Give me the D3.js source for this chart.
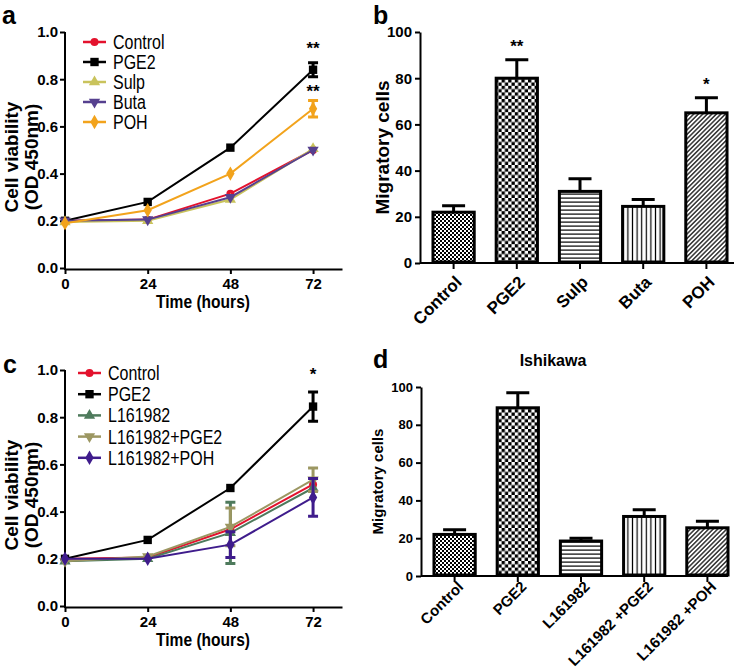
<!DOCTYPE html>
<html>
<head>
<meta charset="utf-8">
<script src="https://cdn.jsdelivr.net/npm/d3@7"></script>
<style>
  body { margin: 0; background: #fff; }
  svg { display: block; }
  text { font-family: Arial, "Liberation Sans", sans-serif; }
</style>
</head>
<body>
<svg width="742" height="671"></svg>
<script>
// ---- data ----
var hours = [0, 24, 48, 72];

// panel a
var aNames = ["Control", "PGE2", "Sulp", "Buta", "POH"];
var aControl = [0.20, 0.205, 0.315, 0.50];
var aPGE2 = [0.20, 0.28, 0.51, 0.84];
var aSulp = [0.195, 0.20, 0.29, 0.505];
var aButa = [0.20, 0.205, 0.30, 0.50];
var aPOH = [0.19, 0.245, 0.40, 0.675];
var aControlErr = [0.01, 0.008, 0.01, 0.01];
var aPGE2Err = [0.01, 0.01, 0.012, 0.03];
var aSulpErr = [0.01, 0.008, 0.01, 0.01];
var aButaErr = [0.01, 0.008, 0.01, 0.01];
var aPOHErr = [0.01, 0.01, 0.01, 0.035];

// panel c
var cNames = ["Control", "PGE2", "L161982", "L161982+PGE2", "L161982+POH"];
var cControl = [0.20, 0.205, 0.325, 0.515];
var cPGE2 = [0.20, 0.28, 0.50, 0.845];
var cL161982 = [0.19, 0.20, 0.31, 0.50];
var cLPGE2 = [0.19, 0.21, 0.335, 0.535];
var cLPOH = [0.20, 0.20, 0.26, 0.46];
var cControlErr = [0.01, 0.01, 0.02, 0.02];
var cPGE2Err = [0.01, 0.01, 0.01, 0.062];
var cL161982Err = [0.01, 0.01, 0.13, 0.02];
var cLPGE2Err = [0.01, 0.01, 0.08, 0.05];
var cLPOHErr = [0.01, 0.01, 0.055, 0.08];

// panel b
var bCats = ["Control", "PGE2", "Sulp", "Buta", "POH"];
var bValues = [22, 80, 31, 24.5, 65];
var bErrors = [2.8, 8, 5.5, 3, 6.5];
var bStars = ["", "**", "", "", "*"];

// panel d
var dCats = ["Control", "PGE2", "L161982", "L161982 +PGE2", "L161982 +POH"];
var dValues = [22, 89, 18.5, 31.5, 25.5];
var dErrors = [2.5, 8, 1.5, 3.5, 3.5];

var lineTicks = [0, 0.2, 0.4, 0.6, 0.8, 1.0];
var barTicks = [0, 20, 40, 60, 80, 100];

var svg = d3.select("svg");

// ---- patterns ----
var defs = svg.append("defs");
var p = defs.append("pattern").attr("id", "fineCheck").attr("patternUnits", "userSpaceOnUse")
  .attr("width", 4).attr("height", 4);
p.append("rect").attr("width", 4).attr("height", 4).attr("fill", "#fff");
p.append("rect").attr("width", 2).attr("height", 2).attr("fill", "#000");
p.append("rect").attr("x", 2).attr("y", 2).attr("width", 2).attr("height", 2).attr("fill", "#000");

p = defs.append("pattern").attr("id", "check").attr("patternUnits", "userSpaceOnUse")
  .attr("width", 6.6).attr("height", 6.6);
p.append("rect").attr("width", 6.6).attr("height", 6.6).attr("fill", "#fff");
p.append("rect").attr("width", 3.3).attr("height", 3.3).attr("fill", "#000");
p.append("rect").attr("x", 3.3).attr("y", 3.3).attr("width", 3.3).attr("height", 3.3).attr("fill", "#000");

p = defs.append("pattern").attr("id", "hlines").attr("patternUnits", "userSpaceOnUse")
  .attr("width", 4).attr("height", 4);
p.append("rect").attr("width", 4).attr("height", 4).attr("fill", "#fff");
p.append("rect").attr("y", 1.5).attr("width", 4).attr("height", 1.2).attr("fill", "#000");

p = defs.append("pattern").attr("id", "vlines").attr("patternUnits", "userSpaceOnUse")
  .attr("width", 4.6).attr("height", 4.6);
p.append("rect").attr("width", 4.6).attr("height", 4.6).attr("fill", "#fff");
p.append("rect").attr("x", 1.7).attr("width", 1.2).attr("height", 4.6).attr("fill", "#000");

p = defs.append("pattern").attr("id", "diag").attr("patternUnits", "userSpaceOnUse")
  .attr("width", 3.2).attr("height", 3.2).attr("patternTransform", "rotate(45)");
p.append("rect").attr("width", 3.2).attr("height", 3.2).attr("fill", "#fff");
p.append("rect").attr("x", 1).attr("width", 1.2).attr("height", 3.2).attr("fill", "#000");

var barFills = ["url(#fineCheck)", "url(#check)", "url(#hlines)", "url(#vlines)", "url(#diag)"];

// ---- helpers ----
function markerPath(shape, size) {
  var sym = {
    circle: d3.symbolCircle, square: d3.symbolSquare, up: d3.symbolTriangle,
    down: d3.symbolTriangle, diamond: d3.symbolDiamond
  }[shape];
  return d3.symbol().type(sym).size(size)();
}

// condensed text (no narrow font installed, so squeeze it)
function narrowText(x, y, str, size, bold, anchor) {
  return svg.append("text")
    .attr("transform", "translate(" + x + "," + y + ") scale(0.82,1)")
    .attr("text-anchor", anchor || "start")
    .style("font-size", size + "px")
    .style("font-weight", bold ? "bold" : "normal")
    .text(str);
}

function styleAxis(g, fontSize) {
  g.select(".domain").attr("stroke", "#000").attr("stroke-width", 2);
  g.selectAll(".tick line").attr("stroke", "#000").attr("stroke-width", 2);
  g.selectAll(".tick text").attr("fill", "#000").style("font-size", fontSize + "px").style("font-weight", "bold");
}

function linePanel(opt) {
  var x = d3.scaleLinear().domain([0, 80.4]).range([65, 342]);
  var y = d3.scaleLinear().domain([0, 1]).range([opt.y0, opt.y1]);

  var gy = svg.append("g").attr("transform", "translate(65,0)")
    .call(d3.axisLeft(y).tickValues(lineTicks).tickSize(5).tickSizeOuter(0).tickFormat(d3.format(".1f")));
  styleAxis(gy, 15);
  gy.select(".domain").attr("d", "M0," + (opt.y0 + 2) + "V" + opt.y1);
  gy.selectAll(".tick text").attr("x", -7);

  var gx = svg.append("g").attr("transform", "translate(0," + (opt.y0 + 1) + ")")
    .call(d3.axisBottom(x).tickValues(hours).tickSize(5).tickSizeOuter(0));
  styleAxis(gx, 15);
  gx.selectAll(".tick text").attr("y", 9);

  narrowText(203, opt.y0 + 40, "Time (hours)", 19, true, "middle");

  var cy = (opt.y0 + opt.y1) / 2 + 7;
  svg.append("text").attr("transform", "translate(18," + cy + ") rotate(-90)")
    .attr("text-anchor", "middle").style("font-size", "19px").style("font-weight", "bold")
    .text("Cell viability");
  svg.append("text").attr("transform", "translate(38," + cy + ") rotate(-90)")
    .attr("text-anchor", "middle").style("font-size", "19px").style("font-weight", "bold")
    .text("(OD 450nm)");

  var line = d3.line().x(function(d) { return x(d.h); }).y(function(d) { return y(d.v); });

  opt.series.forEach(function(s) {
    var pts = hours.map(function(h, i) { return { h: h, v: s.values[i], e: s.errors[i] }; });
    var g = svg.append("g");
    g.append("path").datum(pts).attr("d", line).attr("fill", "none")
      .attr("stroke", s.color).attr("stroke-width", 2);
    pts.forEach(function(d) {
      if (d.e * 236 < 5) return;
      var xx = x(d.h);
      g.append("path")
        .attr("d", "M" + xx + "," + y(d.v - d.e) + "V" + y(d.v + d.e) +
          "M" + (xx - 5) + "," + y(d.v - d.e) + "H" + (xx + 5) +
          "M" + (xx - 5) + "," + y(d.v + d.e) + "H" + (xx + 5))
        .attr("stroke", s.color).attr("stroke-width", 3).attr("fill", "none");
    });
    g.selectAll(".m").data(pts).enter().append("path")
      .attr("d", markerPath(s.shape, s.size))
      .attr("transform", function(d) {
        return "translate(" + x(d.h) + "," + y(d.v) + ")" + (s.shape === "down" ? " rotate(180)" : "");
      })
      .attr("fill", s.color);
  });

  // legend
  opt.series.forEach(function(s, i) {
    var ly = opt.legendY + i * opt.legendStep;
    svg.append("line").attr("x1", opt.legendX).attr("x2", opt.legendX + 23)
      .attr("y1", ly).attr("y2", ly).attr("stroke", s.color).attr("stroke-width", 2.5);
    svg.append("path").attr("d", markerPath(s.shape, s.size))
      .attr("transform", "translate(" + (opt.legendX + 11.5) + "," + ly + ")" + (s.shape === "down" ? " rotate(180)" : ""))
      .attr("fill", s.color);
    narrowText(opt.legendX + 30, ly + 7, s.name, 19.5, false);
  });

  opt.stars.forEach(function(st) {
    svg.append("text").attr("x", x(72)).attr("y", y(st.v) - st.dy).attr("text-anchor", "middle")
      .style("font-size", "17px").style("font-weight", "bold").text(st.t);
  });
}

function barPanel(opt) {
  var x = d3.scaleBand().domain(opt.cats).range([opt.axisX + 2, opt.axisX + 318])
    .paddingInner(0.3).paddingOuter(0.15);
  var y = d3.scaleLinear().domain([0, 100]).range([opt.y0, opt.y1]);

  var gy = svg.append("g").attr("transform", "translate(" + opt.axisX + ",0)")
    .call(d3.axisLeft(y).tickValues(barTicks).tickSize(5).tickSizeOuter(0));
  styleAxis(gy, opt.yFont);

  var gx = svg.append("g").attr("transform", "translate(0," + opt.y0 + ")")
    .call(d3.axisBottom(x).tickSize(6).tickSizeOuter(0));
  styleAxis(gx, opt.xFont);
  gx.select(".domain").attr("d", "M" + opt.axisX + ",0H" + (opt.axisX + opt.axisLen));
  gx.selectAll(".tick text").attr("x", 0).attr("y", 0).attr("dy", "0.35em")
    .attr("text-anchor", "end").attr("transform", opt.labelShift + " rotate(-45)");

  var cy = (opt.y0 + opt.y1) / 2;
  svg.append("text").attr("transform", "translate(" + opt.labelX + "," + cy + ") rotate(-90)")
    .attr("text-anchor", "middle").style("font-size", opt.labelFont + "px").style("font-weight", "bold")
    .text("Migratory cells");

  var rows = opt.cats.map(function(c, i) { return { c: c, v: opt.values[i], e: opt.errors[i], f: barFills[i] }; });

  svg.selectAll(null).data(rows).enter().append("path")
    .attr("d", function(d) {
      var cx = x(d.c) + x.bandwidth() / 2;
      return "M" + cx + "," + y(d.v) + "V" + y(d.v + d.e) +
        "M" + (cx - 11.5) + "," + y(d.v + d.e) + "H" + (cx + 11.5);
    })
    .attr("stroke", "#000").attr("stroke-width", 3).attr("fill", "none");

  svg.selectAll(null).data(rows).enter().append("rect")
    .attr("x", function(d) { return x(d.c) + 1.5; })
    .attr("y", function(d) { return y(d.v); })
    .attr("width", x.bandwidth() - 3)
    .attr("height", function(d) { return opt.y0 - y(d.v) - 1; })
    .attr("fill", function(d) { return d.f; })
    .attr("stroke", "#000").attr("stroke-width", 3);

  if (opt.stars) {
    rows.forEach(function(d, i) {
      if (!opt.stars[i]) return;
      svg.append("text").attr("x", x(d.c) + x.bandwidth() / 2).attr("y", y(d.v + d.e) - 8)
        .attr("text-anchor", "middle").style("font-size", "17px").style("font-weight", "bold")
        .text(opt.stars[i]);
    });
  }
}

// ---- panel a ----
linePanel({
  y0: 268, y1: 32, legendX: 83, legendY: 42, legendStep: 20,
  series: [
    { name: aNames[0], values: aControl, errors: aControlErr, color: "#e3122d", shape: "circle", size: 50 },
    { name: aNames[1], values: aPGE2, errors: aPGE2Err, color: "#000000", shape: "square", size: 70 },
    { name: aNames[2], values: aSulp, errors: aSulpErr, color: "#c9c35c", shape: "up", size: 55 },
    { name: aNames[3], values: aButa, errors: aButaErr, color: "#56408f", shape: "down", size: 55 },
    { name: aNames[4], values: aPOH, errors: aPOHErr, color: "#f2a31c", shape: "diamond", size: 60 }
  ],
  stars: [{ v: aPGE2[3] + aPGE2Err[3], t: "**", dy: 9 }, { v: aPOH[3] + aPOHErr[3], t: "**", dy: 3 }]
});

// ---- panel c ----
linePanel({
  y0: 606, y1: 370, legendX: 78, legendY: 373, legendStep: 21.2,
  series: [
    { name: cNames[0], values: cControl, errors: cControlErr, color: "#e3122d", shape: "circle", size: 50 },
    { name: cNames[1], values: cPGE2, errors: cPGE2Err, color: "#000000", shape: "square", size: 70 },
    { name: cNames[2], values: cL161982, errors: cL161982Err, color: "#4e7a5c", shape: "up", size: 55 },
    { name: cNames[3], values: cLPGE2, errors: cLPGE2Err, color: "#9c9762", shape: "down", size: 55 },
    { name: cNames[4], values: cLPOH, errors: cLPOHErr, color: "#3f1c8c", shape: "diamond", size: 60 }
  ],
  stars: [{ v: cPGE2[3] + cPGE2Err[3], t: "*", dy: 12 }]
});

// ---- panel b ----
barPanel({
  cats: bCats, values: bValues, errors: bErrors, stars: bStars,
  axisX: 420, axisLen: 314, y0: 263, y1: 32, yFont: 15, xFont: 17, labelX: 389, labelFont: 19,
  labelShift: "translate(5,16)"
});

// ---- panel d ----
barPanel({
  cats: dCats, values: dValues, errors: dErrors,
  axisX: 421, axisLen: 307, y0: 576, y1: 387, yFont: 13, xFont: 15, labelX: 383, labelFont: 15,
  labelShift: "translate(6,8)"
});

svg.append("text").attr("x", 553).attr("y", 366).attr("text-anchor", "middle")
  .style("font-size", "16px").style("font-weight", "bold").text("Ishikawa");

// panel letters
[["a", 2, 24], ["b", 373, 24], ["c", 3, 373], ["d", 373, 368]].forEach(function(l) {
  svg.append("text").attr("x", l[1]).attr("y", l[2]).style("font-size", "25px").style("font-weight", "bold").text(l[0]);
});
</script>
</body>
</html>
